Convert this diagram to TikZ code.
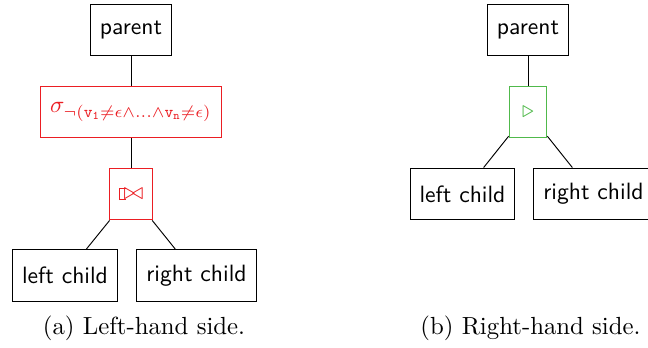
\documentclass[tikz,border=0pt]{standalone}
\usepackage{amsmath, amssymb}
\usepackage{tikz}

\definecolor{selred}{RGB}{235,30,35}
\definecolor{selgreen}{RGB}{80,185,75}

% left outer join: bowtie with stubs on the left
\newcommand{\ojoinpart}{\rule[-0.1pt]{0.4pt}{5.1pt}\rule[-0.1pt]{2.6pt}{0.4pt}\llap{\rule[4.6pt]{2.6pt}{0.4pt}}}
\newcommand{\lojoin}{\mathbin{\ojoinpart\mkern-1.5mu{\bowtie}}}

\begin{document}
\begin{tikzpicture}[x=0.4237pt,y=-0.4237pt,
  box/.style={draw,font=\sffamily,inner xsep=4pt,minimum height=22pt},
  opbox/.style={draw,inner xsep=4pt,minimum height=22pt},
  caption/.style={anchor=base,font=\fontsize{10.5pt}{12pt}\selectfont}]
\useasboundingbox (0,0) rectangle (648,347);

% (a) left-hand side
\node[box] (parentL) at (131,30) {parent};
\node[opbox,draw=selred,text=selred] (sigma) at (131,112)
  {$\sigma_{\neg(\mathtt{v}_\mathtt{1}\neq\epsilon\wedge\ldots\wedge\mathtt{v}_\mathtt{n}\neq\epsilon)}$};
\node[opbox,draw=selred,text=selred,inner xsep=3pt,minimum width=18.2pt] (join) at (131,194) {$\lojoin$};
\node[box] (lchildL) at (65,275.5) {left child};
\node[box] (rchildL) at (196.5,275.5) {right child};

\draw (parentL) -- (sigma);
\draw (sigma) -- (join);
\draw (join) -- (lchildL);
\draw (join) -- (rchildL);

\node[caption] (capL) at (144,334) {(a) Left-hand side.};

% (b) right-hand side
\node[box] (parentR) at (528,30) {parent};
\node[opbox,draw=selgreen,text=selgreen,minimum width=16pt] (tri) at (528,112) {$\triangleright$};
\node[box] (lchildR) at (462.5,194) {left child};
\node[box] (rchildR) at (593.5,194) {right child};

\draw (parentR) -- (tri);
\draw (tri) -- (lchildR);
\draw (tri) -- (rchildR);

\node[caption] (capR) at (530.5,334) {(b) Right-hand side.};

\end{tikzpicture}
\end{document}
